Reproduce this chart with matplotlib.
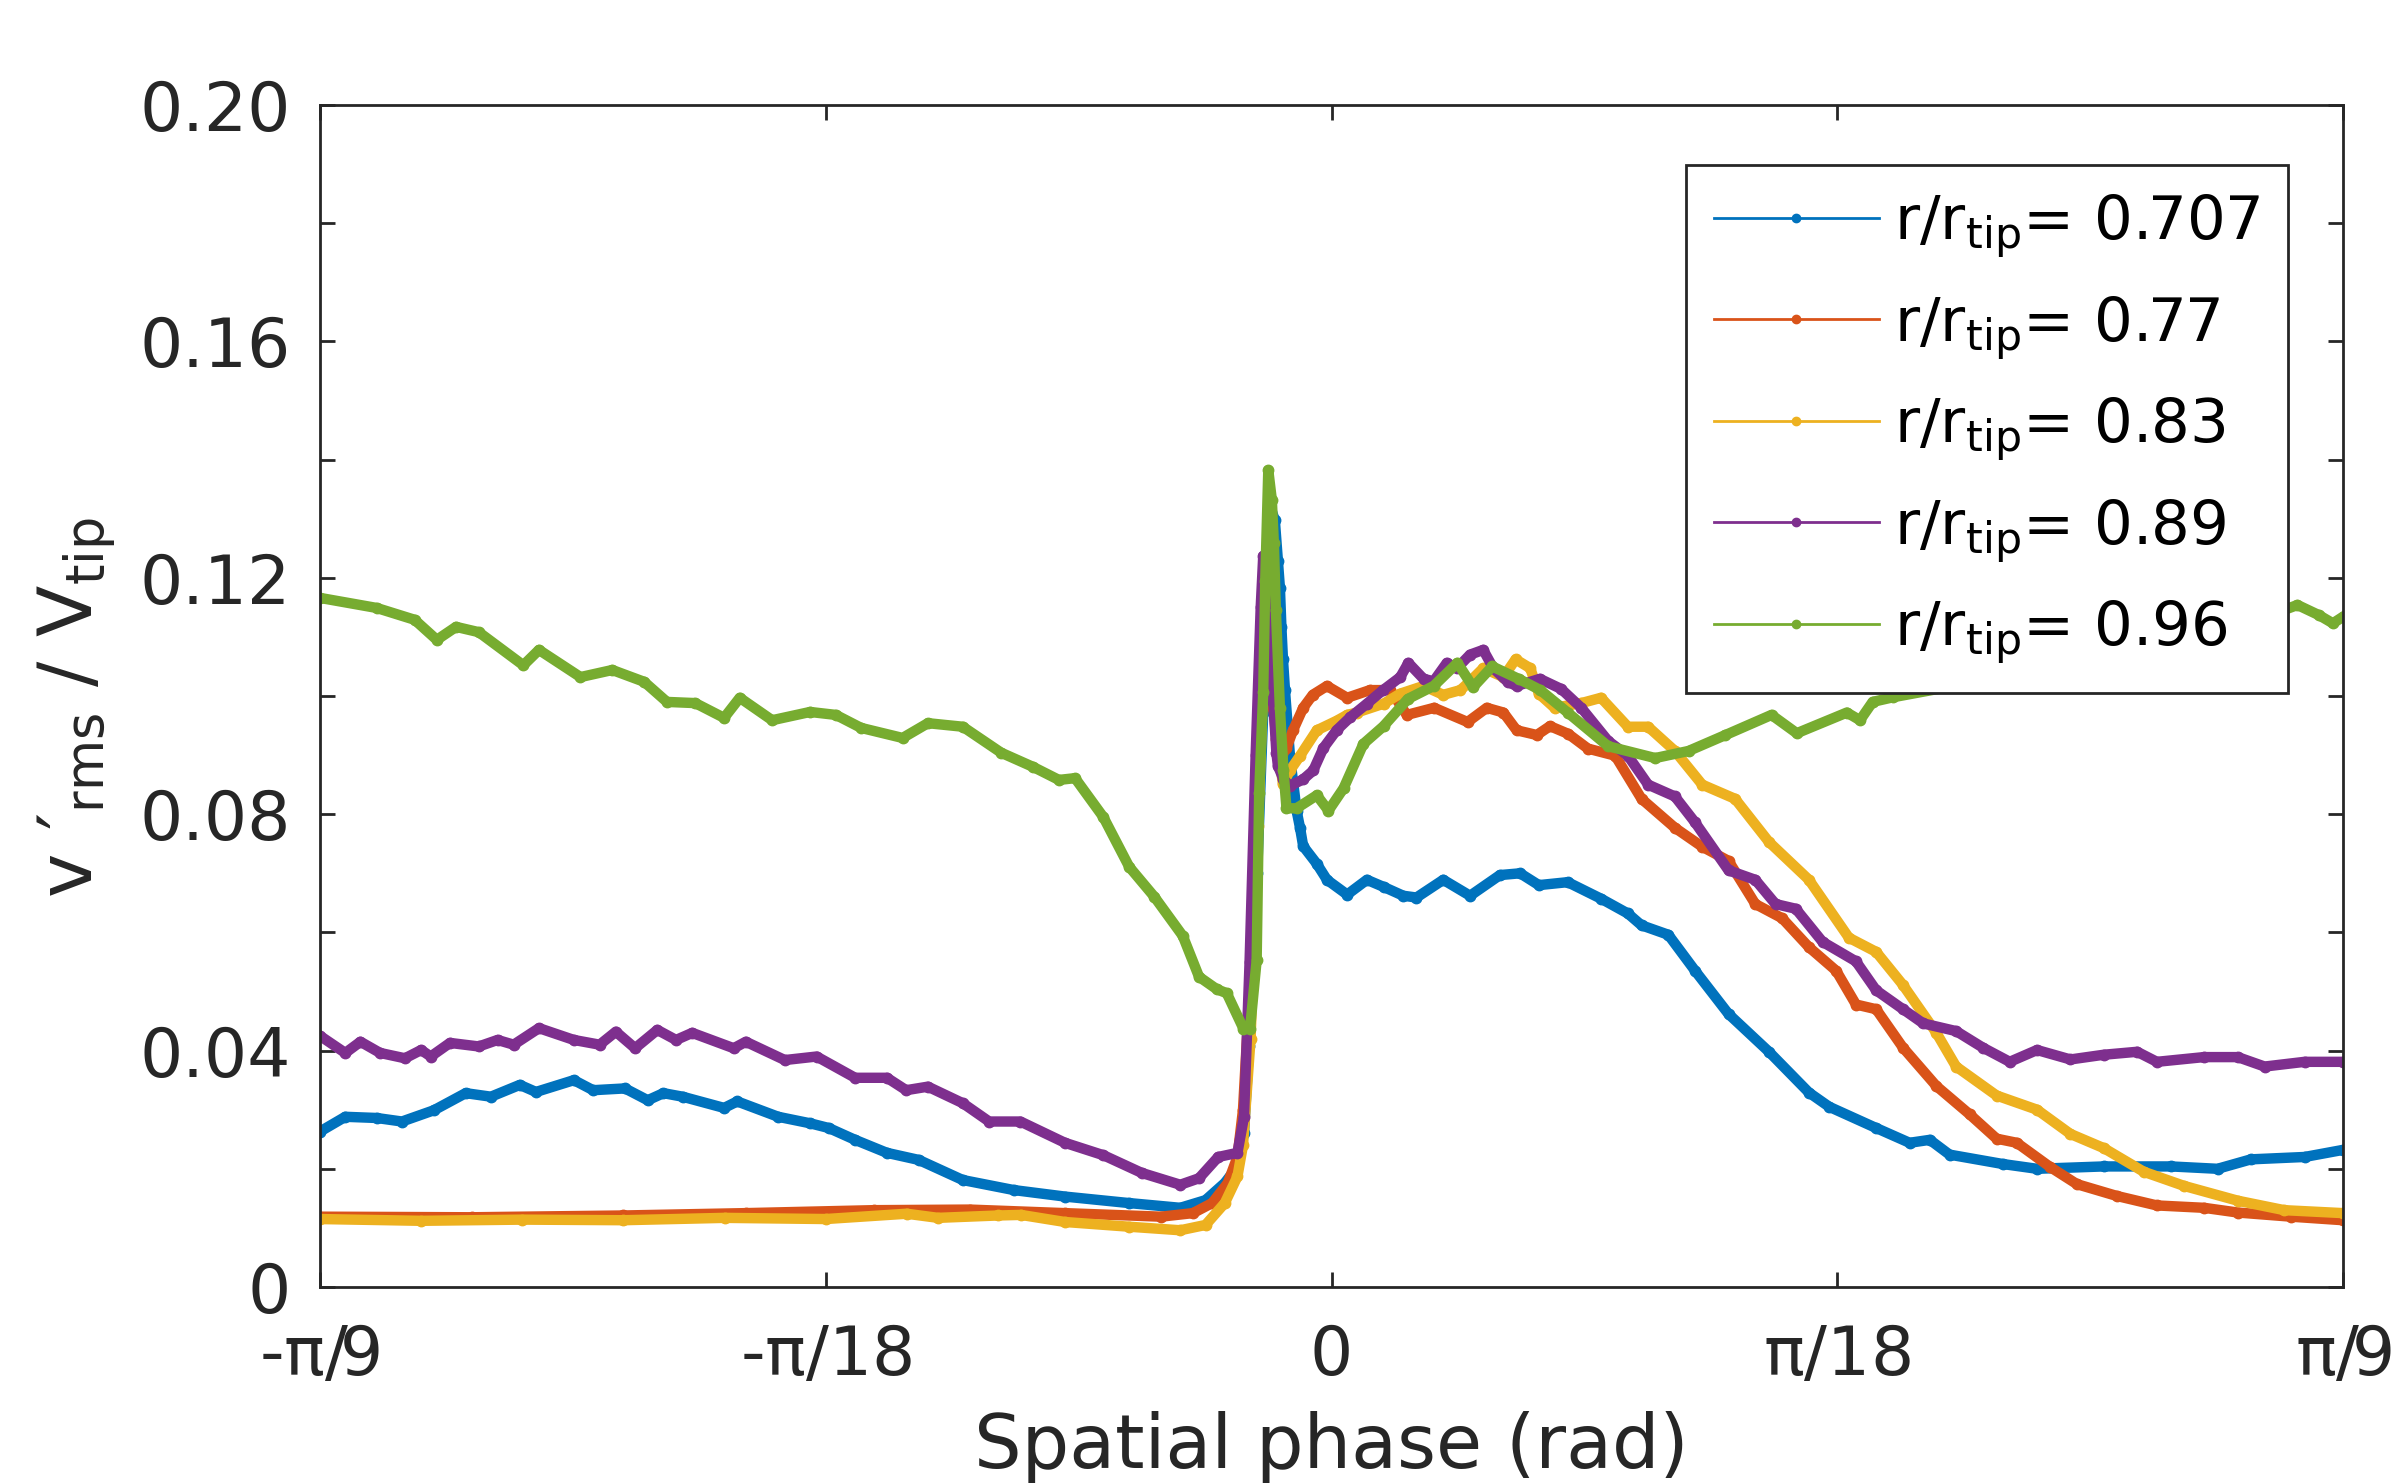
import numpy as np
import matplotlib
matplotlib.use('Agg')
import matplotlib.pyplot as plt
from matplotlib.lines import Line2D

plt.rcParams['font.family'] = ['DejaVu Sans']
plt.rcParams['mathtext.default'] = 'regular'

# spatial phase in degrees, v'_rms / V_tip
x_707 = [-20, -19.5, -18.88, -18.38, -17.75, -17.12, -16.62, -16.05, -15.73, -14.98,
         -14.6, -13.97, -13.52, -13.21, -12.83, -12.01, -11.75, -10.94, -10.31, -9.94,
         -9.42, -8.79, -8.16, -7.29, -6.28, -5.27, -4.0, -2.99, -2.49, -2.11,
         -1.86, -1.73, -1.63, -1.47, -1.35, -1.28, -1.22, -1.12, -1.06, -1.02,
         -0.99, -0.96, -0.92, -0.82, -0.69, -0.62, -0.56, -0.29, -0.09, 0.31,
         0.70, 1.03, 1.42, 1.68, 2.21, 2.74, 3.33, 3.73, 4.1, 4.67,
         5.33, 5.86, 6.13, 6.66, 7.19, 7.85, 8.65, 9.44, 9.84, 10.77,
         11.43, 11.83, 12.22, 13.28, 13.95, 15.27, 16.6, 17.52, 18.18, 19.24, 20.0]
y_707 = [0.0263, 0.0288, 0.0286, 0.0280, 0.0299, 0.0328, 0.0322, 0.0342, 0.0330, 0.0350,
         0.0333, 0.0336, 0.0316, 0.0328, 0.0322, 0.0303, 0.0314, 0.0288, 0.0277, 0.0269,
         0.0249, 0.0227, 0.0215, 0.0181, 0.0164, 0.0153, 0.0142, 0.0134, 0.0147, 0.0176,
         0.0204, 0.0261, 0.0407, 0.0700, 0.0972, 0.1183, 0.1323, 0.1297, 0.1229, 0.1183,
         0.1116, 0.1063, 0.1010, 0.0897, 0.0806, 0.0776, 0.0746, 0.0716, 0.0689, 0.0664,
         0.0689, 0.0677, 0.0662, 0.0659, 0.0689, 0.0662, 0.0697, 0.0700, 0.0680, 0.0685,
         0.0657, 0.0632, 0.0612, 0.0596, 0.0535, 0.0462, 0.0398, 0.0329, 0.0305, 0.0269,
         0.0244, 0.0249, 0.0224, 0.0208, 0.0200, 0.0204, 0.0204, 0.0200, 0.0216, 0.0220, 0.0232]

x_77 = [-20, -17, -14, -11.58, -9.05, -7.15, -5.27, -3.37, -2.74, -2.36,
        -2.05, -1.86, -1.75, -1.62, -1.48, -1.38, -1.31, -1.22, -1.15, -1.09,
        -0.99, -0.89, -0.76, -0.56, -0.37, -0.09, 0.31, 0.76, 1.16, 1.49,
        2.03, 2.69, 3.07, 3.40, 3.66, 4.06, 4.32, 4.68, 5.07, 5.61,
        6.13, 6.79, 7.33, 7.85, 8.38, 8.91, 9.44, 9.98, 10.37, 10.77,
        11.30, 11.96, 12.62, 13.15, 13.55, 14.21, 14.74, 15.53, 16.32, 17.25,
        17.92, 18.97, 20.0]
y_77 = [0.0119, 0.0118, 0.0121, 0.0125, 0.0130, 0.0131, 0.0125, 0.0119, 0.0125, 0.0142,
        0.0176, 0.0220, 0.0300, 0.0500, 0.0850, 0.1080, 0.1180, 0.1047, 0.0980, 0.0927,
        0.0897, 0.0912, 0.0942, 0.0980, 0.1002, 0.1017, 0.0997, 0.1010, 0.1010, 0.0968,
        0.0980, 0.0956, 0.0980, 0.0972, 0.0942, 0.0934, 0.0949, 0.0936, 0.0911, 0.0899,
        0.0826, 0.0777, 0.0745, 0.0721, 0.0648, 0.0624, 0.0575, 0.0535, 0.0478, 0.0470,
        0.0405, 0.0340, 0.0292, 0.0251, 0.0244, 0.0203, 0.0174, 0.0154, 0.0138, 0.0134,
        0.0126, 0.0119, 0.0113]

x_83 = [-20, -18, -16, -14, -12, -10, -8.4, -7.78, -6.6, -6.14,
        -5.27, -4.0, -2.99, -2.49, -2.11, -1.86, -1.75, -1.6, -1.45, -1.35,
        -1.28, -1.2, -1.12, -1.09, -1.06, -0.96, -0.82, -0.62, -0.29, 0.10,
        0.31, 0.50, 1.03, 1.36, 1.82, 2.21, 2.55, 2.74, 3.0, 3.40,
        3.64, 3.93, 4.1, 4.41, 4.94, 5.33, 5.86, 6.26, 6.79, 7.33,
        7.98, 8.65, 9.44, 10.23, 10.77, 11.30, 11.96, 12.35, 13.15, 13.95,
        14.61, 15.27, 16.06, 16.86, 17.92, 18.84, 20.0]
y_83 = [0.0115, 0.0112, 0.0114, 0.0113, 0.0117, 0.0115, 0.0124, 0.0117, 0.0121, 0.0122,
        0.0110, 0.0102, 0.0096, 0.0105, 0.0142, 0.0187, 0.0240, 0.0420, 0.0780, 0.1020,
        0.1130, 0.1100, 0.1078, 0.1017, 0.0912, 0.0851, 0.0874, 0.0899, 0.0942, 0.0958,
        0.0968, 0.0972, 0.0987, 0.1004, 0.1017, 0.1002, 0.1010, 0.1025, 0.1047, 0.1032,
        0.1062, 0.1047, 0.1004, 0.0980, 0.0988, 0.0997, 0.0948, 0.0948, 0.0907, 0.0850,
        0.0826, 0.0753, 0.0689, 0.0591, 0.0567, 0.0511, 0.0430, 0.0373, 0.0324, 0.0300,
        0.0259, 0.0235, 0.0195, 0.0171, 0.0146, 0.0130, 0.0125]

x_89 = [-20, -19.5, -19.2, -18.81, -18.32, -18.0, -17.81, -17.43, -16.86, -16.49,
        -16.17, -15.67, -14.98, -14.47, -14.15, -13.77, -13.33, -12.96, -12.64, -11.82,
        -11.58, -10.81, -10.18, -9.42, -8.79, -8.41, -7.98, -7.29, -6.77, -6.15,
        -5.27, -4.51, -3.75, -2.99, -2.62, -2.24, -1.86, -1.73, -1.62, -1.50,
        -1.40, -1.35, -1.31, -1.24, -1.22, -1.18, -1.15, -1.09, -1.06, -0.95,
        -0.82, -0.56, -0.36, -0.16, 0.10, 0.37, 0.70, 1.02, 1.36, 1.52,
        1.82, 2.02, 2.28, 2.48, 2.74, 3.0, 3.20, 3.48, 3.66, 4.12,
        4.54, 4.94, 5.47, 5.86, 6.26, 6.79, 7.19, 7.85, 8.38, 8.78,
        9.18, 9.71, 10.37, 10.77, 11.30, 11.70, 12.35, 12.88, 13.41, 13.95,
        14.61, 15.27, 15.93, 16.32, 17.25, 17.92, 18.45, 19.24, 20.0]
y_89 = [0.0425, 0.0396, 0.0415, 0.0396, 0.0387, 0.0401, 0.0390, 0.0413, 0.0407, 0.0418,
        0.0410, 0.0438, 0.0418, 0.0410, 0.0432, 0.0404, 0.0435, 0.0418, 0.0430, 0.0404,
        0.0415, 0.0384, 0.0390, 0.0354, 0.0354, 0.0333, 0.0339, 0.0311, 0.0280, 0.0280,
        0.0244, 0.0223, 0.0193, 0.0173, 0.0184, 0.0220, 0.0227, 0.0288, 0.0550, 0.0900,
        0.1150, 0.1237, 0.1169, 0.1124, 0.1078, 0.1017, 0.0990, 0.0904, 0.0882, 0.0859,
        0.0848, 0.0859, 0.0874, 0.0912, 0.0942, 0.0964, 0.0987, 0.1010, 0.1032, 0.1056,
        0.1029, 0.1025, 0.1056, 0.1047, 0.1070, 0.1078, 0.1047, 0.1024, 0.1017, 0.1029,
        0.1012, 0.0980, 0.0924, 0.0899, 0.0850, 0.0830, 0.0786, 0.0705, 0.0689, 0.0648,
        0.0640, 0.0584, 0.0551, 0.0502, 0.0470, 0.0446, 0.0433, 0.0405, 0.0381, 0.0401,
        0.0385, 0.0393, 0.0398, 0.0381, 0.0389, 0.0389, 0.0373, 0.0381, 0.0381]

x_96 = [-20, -18.88, -18.13, -17.69, -17.31, -16.86, -15.98, -15.67, -14.85, -14.22,
        -13.59, -13.14, -12.58, -12.01, -11.70, -11.06, -10.31, -9.80, -9.30, -8.48,
        -7.98, -7.29, -6.53, -5.90, -5.39, -5.07, -4.51, -4.00, -3.50, -2.94,
        -2.62, -2.27, -2.07, -1.74, -1.61, -1.48, -1.43, -1.35, -1.31, -1.25,
        -1.18, -1.14, -1.10, -1.02, -0.95, -0.89, -0.69, -0.29, -0.06, 0.24,
        0.63, 1.03, 1.51, 2.02, 2.49, 2.80, 3.18, 3.70, 4.13, 4.67,
        5.47, 6.40, 7.06, 7.79, 8.70, 9.20, 10.19, 10.45, 10.70, 11.11,
        12.5, 14.0, 15.5, 17.0, 18.5, 19.1, 19.52, 19.8, 20.0]
y_96 = [0.1166, 0.1149, 0.1129, 0.1095, 0.1117, 0.1108, 0.1052, 0.1078, 0.1032, 0.1044,
        0.1024, 0.0990, 0.0988, 0.0963, 0.0997, 0.0959, 0.0973, 0.0968, 0.0946, 0.0929,
        0.0954, 0.0948, 0.0904, 0.0880, 0.0858, 0.0861, 0.0795, 0.0711, 0.0660, 0.0594,
        0.0525, 0.0504, 0.0497, 0.0437, 0.0437, 0.0553, 0.0836, 0.1007, 0.1194, 0.1382,
        0.1332, 0.1259, 0.1146, 0.0980, 0.0874, 0.0810, 0.0810, 0.0832, 0.0806, 0.0844,
        0.0919, 0.0949, 0.0995, 0.1017, 0.1056, 0.1015, 0.1050, 0.1029, 0.1010, 0.0972,
        0.0915, 0.0895, 0.0907, 0.0934, 0.0968, 0.0937, 0.0972, 0.0959, 0.0990, 0.0998,
        0.1020, 0.1050, 0.1080, 0.1110, 0.1135, 0.1154, 0.1137, 0.1123, 0.1134]

series = [(x_707, y_707, '0.707'), (x_77, y_77, '0.77'), (x_83, y_83, '0.83'),
          (x_89, y_89, '0.89'), (x_96, y_96, '0.96')]
colors = ['#0072BD', '#D95319', '#EDB120', '#7E2F8E', '#77AC30']

xtick_labels = [r'-$\pi$/9', r'-$\pi$/18', '0', r'$\pi$/18', r'$\pi$/9']
ytick_labels = ['0', '', '0.04', '', '0.08', '', '0.12', '', '0.16', '', '0.20']

W, H = 2400, 1483
fig = plt.figure(figsize=(24, 14.83), dpi=100)
ax = fig.add_axes([320 / W, 1 - 1287 / H, (2343 - 320) / W, (1287 - 105) / H])

handles = []
for (xs, ys, name), c in zip(series, colors):
    ax.plot(np.deg2rad(xs), ys, '.-', color=c, lw=7.5, ms=15)
    handles.append(Line2D([], [], color=c, lw=2, marker='.', ms=12,
                          label=r'r/r$_{tip}$= ' + name))

ax.set_xlim(-np.pi / 9, np.pi / 9)
ax.set_ylim(0, 0.2)
ax.set_xticks(np.array([-2, -1, 0, 1, 2]) * np.pi / 18)
ax.set_xticklabels(xtick_labels)
ax.set_yticks(np.arange(0, 0.2001, 0.02))
ax.set_yticklabels(ytick_labels)

dark = '#262626'
ax.tick_params(direction='in', length=11, width=2, colors=dark, labelsize=49,
               top=True, right=True)
ax.tick_params(axis='x', pad=26)
ax.tick_params(axis='y', pad=21)
for s in ax.spines.values():
    s.set_linewidth(2)
    s.set_color(dark)

ax.set_xlabel('Spatial phase (rad)', fontsize=54, color=dark)
ax.set_ylabel("v \u2032$_{rms}$ / V$_{tip}$", fontsize=54, color=dark)
ax.xaxis.set_label_coords(0.5, -0.105)
ax.yaxis.set_label_coords(-0.1, 0.49)

leg = ax.legend(handles=handles, loc='upper right', fontsize=44,
                bbox_to_anchor=(2288 / W, 1 - 165 / H), bbox_transform=fig.transFigure,
                borderaxespad=0, frameon=True, fancybox=False, framealpha=1,
                handlelength=2.7, handletextpad=0.25, borderpad=0.45,
                labelspacing=0.55)
leg.get_frame().set_edgecolor(dark)
leg.get_frame().set_linewidth(2)

fig.savefig('out.png', dpi=100)
